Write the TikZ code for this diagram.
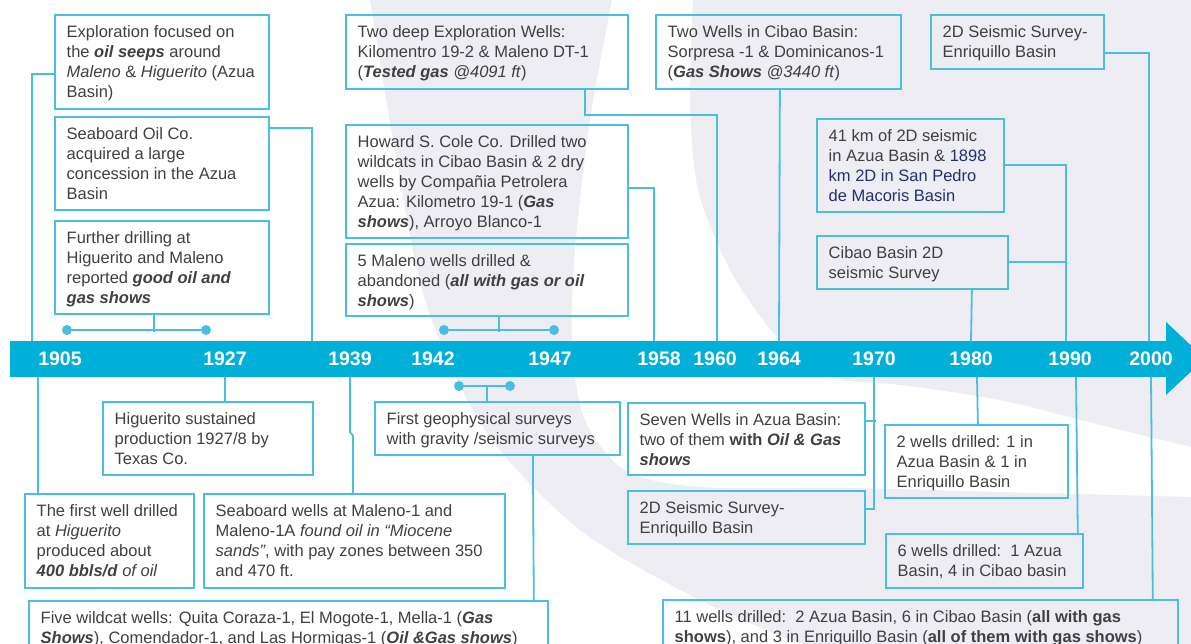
\documentclass[tikz,border=0pt]{standalone}
\usepackage{fontspec}
\setmainfont{Liberation Sans}
\usetikzlibrary{calc}
\definecolor{barc}{RGB}{0,176,216}
\definecolor{lnc}{RGB}{72,190,225}
\definecolor{wmc}{RGB}{237,237,243}
\definecolor{txc}{RGB}{64,64,64}
\definecolor{navyc}{RGB}{35,50,110}
\newcommand{\bi}[1]{\textbf{\textit{#1}}}
\newcommand{\evbox}[6]{%
  \node[evb, minimum width=#4pt, minimum height=#5pt] (#1) at (#2,#3) {};
  \node[evt] (#1t) at ($(#1.north west)+(12.5,9.5)$) {\strut #6};}
\begin{document}
\begin{tikzpicture}[x=1pt,y=-1pt,
  evb/.style={draw=lnc, line width=1.8pt, rectangle, inner sep=0pt, anchor=north west},
  evt/.style={anchor=north west, inner sep=0pt, align=left, text=txc, font=\fontsize{16.5}{20}\selectfont},
  conn/.style={draw=lnc, line width=1.8pt},
  yr/.style={text=white, inner sep=0pt, font=\bfseries\fontsize{19.5}{20}\selectfont},
  dot/.style={circle, fill=lnc, minimum size=10pt, inner sep=0pt}]
\useasboundingbox (0,0) rectangle (1191,644);
\fill[white] (0,0) rectangle (1191,644);
% watermark
\fill[wmc] plot[smooth] coordinates {(370,0) (395,150) (425,300) (485,430) (580,530) (700,600) (800,644)} -- (1191,644) -- (1191,0) -- cycle;
\fill[white] plot[smooth] coordinates {(612,0) (590,120) (575,250) (572,345) (585,420) (625,470) (700,487) (850,488) (1000,492) (1191,497)}
  -- plot[smooth] coordinates {(1191,447) (1100,425) (1000,400) (900,385) (830,377) (777,337) (730,270) (698,190) (690,100) (693,0)} -- cycle;

% timeline bar
\node[fill=barc, inner sep=0pt, minimum width=1157pt, minimum height=36pt, anchor=north west] (bar) at (10,341) {};
\fill[barc] (1166,322) -- (1205,358.5) -- (1166,395) -- cycle;
\foreach \yy/\xx in {1905/60,1927/225,1939/350,1942/433,1947/550,1958/659,1960/715,1964/779,1970/874,1980/971,1990/1070,2000/1151}
  \node[yr] (y\yy) at (\xx,359) {\yy};

% boxes
\evbox{A}{54}{14}{214}{94}{Exploration focused on\\the \bi{oil seeps} around\\\textit{Maleno} \& \textit{Higuerito} (Azua\\Basin)}
\evbox{B}{54}{116}{214}{93}{Seaboard Oil Co.\\acquired a large\\concession in the Azua\\Basin}
\evbox{C}{54}{220}{214}{93}{Further drilling at\\Higuerito and Maleno\\reported \bi{good oil and}\\\bi{gas shows}}
\evbox{D}{345}{14}{282}{74}{Two deep Exploration Wells:\\Kilomentro 19-2 \& Maleno DT-1\\(\bi{Tested gas} \textit{@4091 ft})}
\evbox{E}{345}{124}{282}{113}{Howard S. Cole Co. Drilled two\\wildcats in Cibao Basin \& 2 dry\\wells by Compañia Petrolera\\Azua: Kilometro 19-1 (\bi{Gas}\\\bi{shows}), Arroyo Blanco-1}
\evbox{F}{345}{243}{282}{72}{5 Maleno wells drilled \&\\abandoned (\bi{all with gas or oil}\\\bi{shows})}
\evbox{G}{655}{14}{245}{74}{Two Wells in Cibao Basin:\\Sorpresa -1 \& Dominicanos-1\\(\bi{Gas Shows} \textit{@3440 ft})}
\evbox{H}{930}{14}{173}{54}{2D Seismic Survey-\\Enriquillo Basin}
\evbox{I}{816}{118}{187}{93}{41 km of 2D seismic\\in Azua Basin \& \textcolor{navyc}{1898}\\\textcolor{navyc}{km 2D in San Pedro}\\\textcolor{navyc}{de Macoris Basin}}
\evbox{J}{816}{235}{191}{53}{Cibao Basin 2D\\seismic Survey}
\evbox{K}{102}{401}{210}{73}{Higuerito sustained\\production 1927/8 by\\Texas Co.}
\evbox{L}{24}{493}{169}{94}{The first well drilled\\at \textit{Higuerito}\\produced about\\\bi{400 bbls/d} \textit{of oil}}
\evbox{M}{203}{493}{301}{94}{Seaboard wells at Maleno-1 and\\Maleno-1A \textit{found oil in “Miocene}\\\textit{sands”}, with pay zones between 350\\and 470 ft.}
\evbox{N}{28}{600}{519}{60}{Five wildcat wells: Quita Coraza-1, El Mogote-1, Mella-1 (\bi{Gas}\\\bi{Shows}), Comendador-1, and Las Hormigas-1 (\bi{Oil \&Gas shows})}
\evbox{O}{374}{401}{245}{53}{First geophysical surveys\\with gravity /seismic surveys}
\evbox{P}{627}{402}{237}{72}{Seven Wells in Azua Basin:\\two of them \textbf{with} \bi{Oil \& Gas}\\\bi{shows}}
\evbox{Q}{627}{490}{237}{53}{2D Seismic Survey-\\Enriquillo Basin}
\evbox{R}{884}{424}{183}{73}{2 wells drilled: 1 in\\Azua Basin \& 1 in\\Enriquillo Basin}
\evbox{S}{885}{533}{197}{54}{6 wells drilled:\ \ 1 Azua\\Basin, 4 in Cibao basin}
\evbox{T}{662}{599}{515}{60}{11 wells drilled:\ \ 2 Azua Basin, 6 in Cibao Basin (\textbf{all with gas}\\\textbf{shows}), and 3 in Enriquillo Basin (\textbf{all of them with gas shows})}

% attach points on the bar
\coordinate (u1905) at (32,341);
\coordinate (u1939) at (312,341);
\coordinate (u1958) at (654,341);
\coordinate (u1960) at (717,341);
\coordinate (u1964) at (779,341);
\coordinate (u1980) at (971,341);
\coordinate (u1990) at (1066,341);
\coordinate (u2000) at (1149,341);
\coordinate (l1905) at (38,377);
\coordinate (l1927) at (225,377);
\coordinate (l1939) at (350,377);
\coordinate (l1970) at (874,377);
\coordinate (l1980) at (977,377);
\coordinate (l1990) at (1076,377);
\coordinate (l2000) at (1151,377);

% bracket dots
\node[dot] (cd1) at (67,330) {};
\node[dot] (cd2) at (206,330) {};
\node[dot] (fd1) at (444,330) {};
\node[dot] (fd2) at (554,330) {};
\node[dot] (od1) at (459,386) {};
\node[dot] (od2) at (510,386) {};
\draw[conn] (cd1) -- (cd2);
\draw[conn] (fd1) -- (fd2);
\draw[conn] (od1) -- (od2);

% connectors above
\draw[conn] ([yshift=-60pt]A.north west) -| (u1905);
\draw[conn] ([yshift=-12pt]B.north east) -| (u1939);
\draw[conn] ([xshift=-8pt]C.south) -- ++(0,17);
\draw[conn] ([xshift=98pt]D.south) -- ++(0,25) -| (u1960);
\draw[conn] ([yshift=-6.5pt]E.east) -| (u1958);
\draw[conn] ([xshift=12pt]F.south) -- ++(0,15);
\draw[conn] ([xshift=1.5pt]G.south) -- (u1964);
\draw[conn] ([yshift=-11pt]H.east) -| (u2000);
\draw[conn] (I.east) -| (u1990);
\draw[conn] (J.east) -- (J.east -| u1990);
\draw[conn] ([xshift=59.5pt]J.south) -- (u1980);
% connectors below
\draw[conn] (l1905) -- ([xshift=14pt]L.north west);
\draw[conn] (l1927) -- ([xshift=123pt]K.north west);
\draw[conn] (l1939) -- ++(0,55) -- ++(3,4) -- ([xshift=150pt]M.north west);
\draw[conn] ([xshift=-10.5pt]O.north) -- ++(0,-15);
\draw[conn] ([xshift=35.5pt]O.south) -- ([xshift=-15pt]N.north east);
\draw[conn] (l1970) |- ([yshift=8.5pt]Q.east);
\draw[conn] ([yshift=18pt]P.east) -- ++(10,0);
\draw[conn] (l1980) -- ([xshift=1.5pt]R.north);
\draw[conn] (l1990) -- ([xshift=-6pt]S.north east);
\draw[conn] (l2000) -- ([xshift=-26pt]T.north east);
\end{tikzpicture}
\end{document}
